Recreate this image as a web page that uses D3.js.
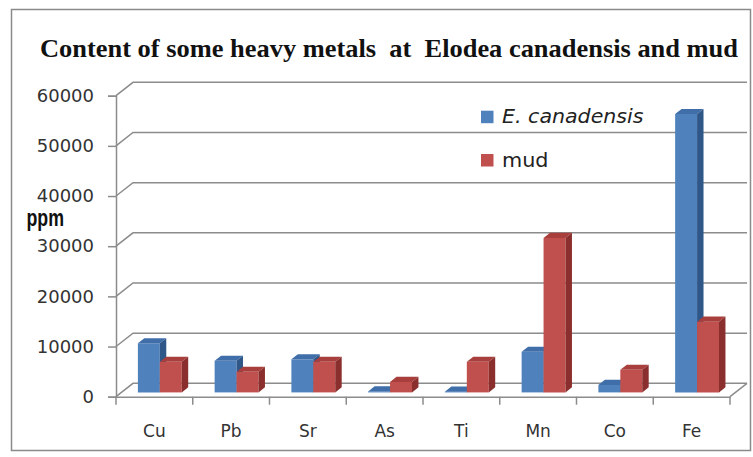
<!DOCTYPE html>
<html>
<head>
<meta charset="utf-8">
<script src="https://cdn.jsdelivr.net/npm/d3@7"></script>
<style>
  html, body { margin: 0; padding: 0; background: #ffffff; }
  svg { display: block; }
</style>
</head>
<body>
<svg id="chart" width="753" height="457"></svg>
<script>
// Heavy metal content (ppm) in Elodea canadensis and in mud
const categories = ["Cu", "Pb", "Sr", "As", "Ti", "Mn", "Co", "Fe"];
const seriesNames = ["E. canadensis", "mud"];
const elodea = [9800, 6300, 6600, 200, 150, 8100, 1500, 55500];
const mud = [6100, 4100, 6100, 2100, 6100, 30800, 4500, 14100];
const yTicks = [0, 10000, 20000, 30000, 40000, 50000, 60000];

const colors = [
  { front: "#4f81bd", top: "#3f6ea9", side: "#2f5787" },
  { front: "#c0504d", top: "#a93f3c", side: "#8a2f2d" }
];

const svg = d3.select("#chart");
const W = 753, H = 457;

// frame
svg.append("rect")
  .attr("x", 11.5).attr("y", 9.5)
  .attr("width", W - 14).attr("height", H - 16)
  .attr("fill", "#ffffff").attr("stroke", "#8a8a8a").attr("stroke-width", 1.5);

// title
svg.append("text")
  .attr("x", 40).attr("y", 57)
  .attr("textLength", 698).attr("lengthAdjust", "spacingAndGlyphs")
  .style("white-space", "pre")
  .attr("font-family", "Liberation Serif, Times New Roman, serif")
  .attr("font-weight", "bold").attr("font-size", 25).attr("fill", "#111")
  .text("Content of some heavy metals  at  Elodea canadensis and mud");

// front plane scales
const x0 = d3.scaleBand().domain(categories).range([116, 730]).padding(0);
const y = d3.scaleLinear().domain([0, 60000]).range([396.7, 95.7]);

// oblique depth offset of the back wall
const DX = 17, DY = -13.4;
const f1 = 0.32, f2 = 0.70;   // bar front / back depth fractions

const gridColor = "#8c8c8c";
const [xl, xr] = x0.range();

// back wall gridlines with their slanted left-wall segments
const grid = svg.append("g").attr("fill", "none").attr("stroke", gridColor).attr("stroke-width", 1.5);
yTicks.forEach(t => {
  const yy = y(t);
  grid.append("path")
    .attr("d", d3.line()([[xl, yy], [xl + DX, yy + DY], [xr + DX, yy + DY]]));
});
// floor right edge
grid.append("path").attr("d", d3.line()([[xr, y(0)], [xr + DX, y(0) + DY]]));

// y axis
const yAxis = d3.axisLeft(y).tickValues(yTicks).tickSize(8).tickPadding(14).tickFormat(d3.format("d"));
const gy = svg.append("g").attr("transform", `translate(${xl},0)`).call(yAxis);
gy.select(".domain").attr("stroke", gridColor).attr("stroke-width", 1.5);
gy.selectAll(".tick line").attr("stroke", gridColor).attr("stroke-width", 1.5);
gy.selectAll(".tick text")
  .attr("font-family", "DejaVu Sans, sans-serif").attr("font-size", 18).attr("fill", "#333");

// y axis title
svg.append("text")
  .attr("x", 26.5).attr("y", 226)
  .attr("textLength", 37.5).attr("lengthAdjust", "spacingAndGlyphs")
  .attr("font-family", "Liberation Sans, Arial, sans-serif")
  .attr("font-weight", "bold").attr("font-size", 24).attr("fill", "#111")
  .text("ppm");

// x axis: line along the floor front edge, boundary ticks, category labels
const gx = svg.append("g").attr("transform", `translate(0,${y(0)})`)
  .call(d3.axisBottom(x0).tickSize(0).tickPadding(28.5));
gx.select(".domain").attr("stroke", gridColor).attr("stroke-width", 1.5);
gx.selectAll(".tick text")
  .attr("font-family", "DejaVu Sans, sans-serif").attr("font-size", 17).attr("fill", "#333");
const bounds = [xl].concat(categories.map(c => x0(c) + x0.bandwidth()));
gx.selectAll("line.bound").data(bounds).join("line")
  .attr("class", "bound")
  .attr("x1", d => d).attr("x2", d => d)
  .attr("y1", 0).attr("y2", 8)
  .attr("stroke", gridColor).attr("stroke-width", 1.5);

// bars: two series per category, gap width 150% of a bar
const bw = x0.bandwidth() / 3.5;
const x1 = d3.scaleBand().domain(seriesNames).range([0, 2 * bw]).padding(0);
const ox1 = DX * f1, oy1 = DY * f1, ox2 = DX * f2, oy2 = DY * f2;

const barData = [];
categories.forEach((c, i) => {
  [elodea[i], mud[i]].forEach((v, s) => {
    barData.push({ c, s, v, name: seriesNames[s] });
  });
});

const bars = svg.append("g").selectAll("g.bar").data(barData).join("g").attr("class", "bar");
bars.each(function (d) {
  const g = d3.select(this);
  const left = x0(d.c) + 0.75 * bw + x1(d.name);
  const right = left + bw;
  const top = y(d.v), base = y(0);
  const col = colors[d.s];
  // front face
  g.append("path").attr("fill", col.front)
    .attr("d", d3.line()([[left + ox1, top + oy1], [right + ox1, top + oy1], [right + ox1, base + oy1], [left + ox1, base + oy1]]) + "Z");
  // top face
  g.append("path").attr("fill", col.top)
    .attr("d", d3.line()([[left + ox1, top + oy1], [right + ox1, top + oy1], [right + ox2, top + oy2], [left + ox2, top + oy2]]) + "Z");
  // right side face
  g.append("path").attr("fill", col.side)
    .attr("d", d3.line()([[right + ox1, top + oy1], [right + ox2, top + oy2], [right + ox2, base + oy2], [right + ox1, base + oy1]]) + "Z");
});

// legend
const legend = svg.append("g");
const legendY = [110.7, 154];
const legendWidths = [141.5, 46.5];
seriesNames.forEach((name, i) => {
  legend.append("rect")
    .attr("x", 481).attr("y", legendY[i]).attr("width", 12.5).attr("height", 12.5)
    .attr("fill", colors[i].front);
  legend.append("text")
    .attr("x", 502).attr("y", legendY[i] + 12.6)
    .attr("textLength", legendWidths[i]).attr("lengthAdjust", "spacingAndGlyphs")
    .attr("font-family", "DejaVu Sans, sans-serif").attr("font-size", 20)
    .attr("font-style", i === 0 ? "italic" : "normal")
    .attr("fill", "#222")
    .text(name);
});
</script>
</body>
</html>
